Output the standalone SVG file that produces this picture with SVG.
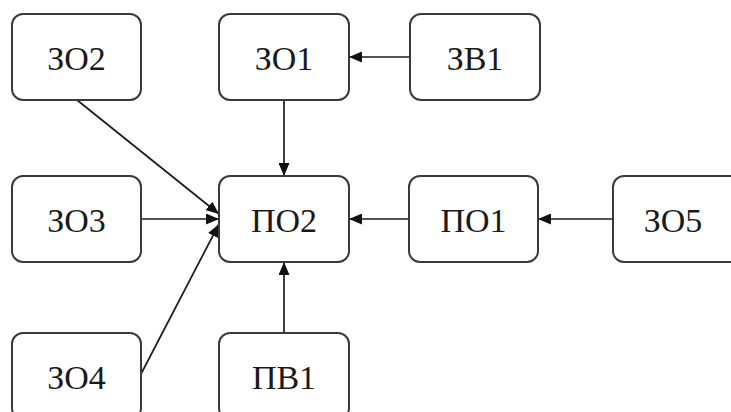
<svg xmlns="http://www.w3.org/2000/svg" width="731" height="412" viewBox="0 0 731 412">
<style>
.n rect{fill:#fff;stroke:#3a3a3a;stroke-width:2}
.n text{font-family:"Liberation Serif","Times New Roman",serif;font-size:34px;fill:#1a1a1a;text-anchor:middle}
.e line{stroke:#1a1a1a;stroke-width:1.7;marker-end:url(#ah)}
</style>
<defs>
<marker id="ah" markerUnits="userSpaceOnUse" markerWidth="14" markerHeight="11" refX="13" refY="5.5" orient="auto">
<path d="M0,0 L13,5.5 L0,11 Z" fill="#111"/>
</marker>
</defs>
<rect width="731" height="412" fill="#fff"/>
<g class="e">
<line x1="410" y1="57" x2="349" y2="57"/>
<line x1="284" y1="100" x2="284" y2="176"/>
<line x1="77" y1="100" x2="219" y2="214"/>
<line x1="141" y1="219" x2="219" y2="219"/>
<line x1="141" y1="374" x2="219" y2="224"/>
<line x1="284" y1="333" x2="284" y2="262"/>
<line x1="409" y1="219" x2="349" y2="219"/>
<line x1="613" y1="219" x2="538" y2="219"/>
</g>
<g id="n-zo2" class="n"><rect x="12" y="14" width="129" height="86" rx="11"/><text x="76.5" y="70">ЗО2</text></g>
<g id="n-zo1" class="n"><rect x="219" y="14" width="130" height="86" rx="11"/><text x="284" y="70">ЗО1</text></g>
<g id="n-zv1" class="n"><rect x="410" y="14" width="130" height="86" rx="11"/><text x="475" y="70">ЗВ1</text></g>
<g id="n-zo3" class="n"><rect x="12" y="176" width="129" height="86" rx="11"/><text x="76.5" y="232">ЗО3</text></g>
<g id="n-po2" class="n"><rect x="219" y="176" width="130" height="86" rx="11"/><text x="284" y="232">ПО2</text></g>
<g id="n-po1" class="n"><rect x="409" y="176" width="129" height="86" rx="11"/><text x="473.5" y="232">ПО1</text></g>
<g id="n-zo5" class="n"><rect x="613" y="176" width="129" height="86" rx="11"/><text x="673" y="232">ЗО5</text></g>
<g id="n-zo4" class="n"><rect x="12" y="333" width="129" height="86" rx="11"/><text x="76.5" y="389">ЗО4</text></g>
<g id="n-pv1" class="n"><rect x="219" y="333" width="130" height="86" rx="11"/><text x="284" y="389">ПВ1</text></g>
</svg>
